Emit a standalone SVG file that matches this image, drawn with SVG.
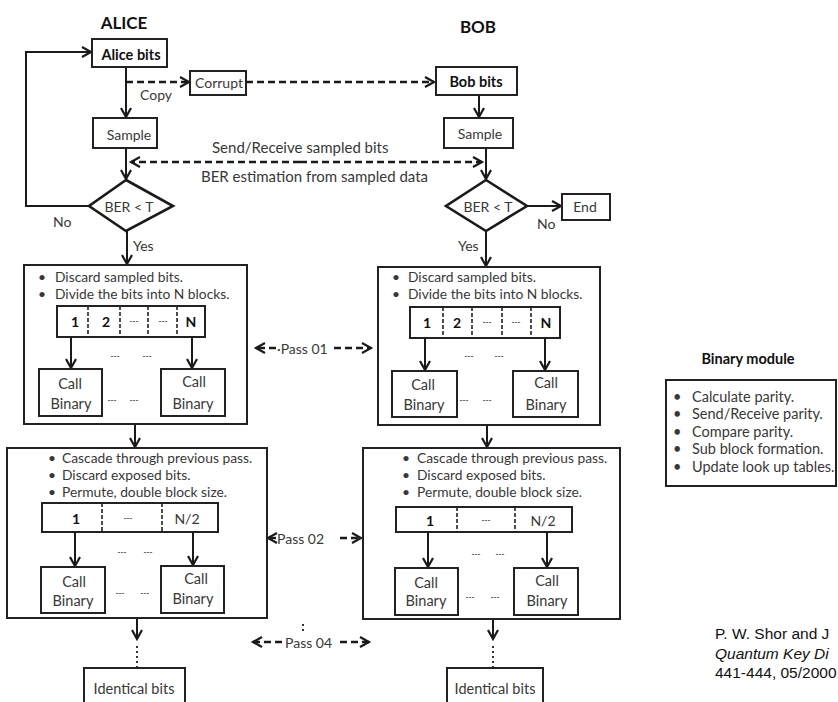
<svg xmlns="http://www.w3.org/2000/svg" width="838" height="702" viewBox="0 0 838 702">
<defs>
<marker id="ah" markerUnits="userSpaceOnUse" markerWidth="12" markerHeight="12" refX="9" refY="5" orient="auto" overflow="visible">
<path d="M0,0 L9,5 L0,10" fill="none" stroke="#1a1a1a" stroke-width="2.2"/>
</marker>
</defs>
<style>
.bx{fill:#fff;stroke:#222;stroke-width:2}
.dm{fill:#fff;stroke:#1a1a1a;stroke-width:2.6}
.ln{fill:none;stroke:#1a1a1a;stroke-width:2}
.ds{fill:none;stroke:#1a1a1a;stroke-width:2.4;stroke-dasharray:7 4}
.dv{fill:none;stroke:#222;stroke-width:1.6;stroke-dasharray:4 2}
.dt{fill:none;stroke:#333;stroke-width:2;stroke-dasharray:2 3}
text{font-family:Lato,"Open Sans",sans-serif;fill:#383838;dominant-baseline:central}
.t{font-size:14px}
.s{font-size:13.8px}
.m{font-size:14.5px}
.l{font-size:15px}
.cb{font-size:14.5px}
.b{font-weight:bold;fill:#111}
.h{font-size:17px;font-weight:bold;fill:#111}
.c{text-anchor:middle}
.e{font-size:8px;font-weight:bold;fill:#444}
.cit{font-family:"Liberation Sans",Arial,sans-serif;font-size:15.5px;fill:#111}
</style>
<rect width="838" height="702" fill="#fff"/>

<text class="h c" x="124" y="22">ALICE</text>
<text class="h c" x="478" y="26">BOB</text>

<g id="connectors">
<polyline class="ln" points="89,206 26,206 26,52 91,52" marker-end="url(#ah)"/>
<line class="ln" x1="126" y1="67" x2="126" y2="117" marker-end="url(#ah)"/>
<line class="ds" x1="126" y1="82" x2="189" y2="82" marker-end="url(#ah)"/>
<line class="ds" x1="246" y1="82" x2="434" y2="82" marker-end="url(#ah)"/>
<line class="ln" x1="126" y1="148" x2="126" y2="179" marker-end="url(#ah)"/>
<line class="ln" x1="479" y1="95" x2="479" y2="117" marker-end="url(#ah)"/>
<line class="ln" x1="486" y1="148" x2="486" y2="179" marker-end="url(#ah)"/>
<line class="ds" x1="300" y1="162" x2="131" y2="162" marker-end="url(#ah)"/>
<line class="ds" x1="300" y1="162" x2="482" y2="162" marker-end="url(#ah)"/>
<line class="ln" x1="527" y1="206" x2="561" y2="206" marker-end="url(#ah)"/>
<line class="ln" x1="127" y1="231" x2="127" y2="264" marker-end="url(#ah)"/>
<line class="ln" x1="486" y1="231" x2="486" y2="266" marker-end="url(#ah)"/>
<line class="ln" x1="135" y1="424" x2="135" y2="447" marker-end="url(#ah)"/>
<line class="ln" x1="487" y1="425" x2="487" y2="447" marker-end="url(#ah)"/>
<line class="ln" x1="137" y1="618" x2="137" y2="639" marker-end="url(#ah)"/>
<line class="dt" x1="137" y1="646" x2="137" y2="668"/>
<line class="ln" x1="493" y1="619" x2="493" y2="639" marker-end="url(#ah)"/>
<line class="dt" x1="493" y1="646" x2="493" y2="668"/>
<line class="ds" x1="276" y1="348" x2="256" y2="348" marker-end="url(#ah)"/>
<line class="ds" x1="334" y1="348" x2="371" y2="348" marker-end="url(#ah)"/>
<line class="ds" x1="276" y1="538" x2="268" y2="538" marker-end="url(#ah)"/>
<line class="ds" x1="340" y1="538" x2="361" y2="538" marker-end="url(#ah)"/>
<line class="ds" x1="282" y1="642" x2="253" y2="642" marker-end="url(#ah)"/>
<line class="ds" x1="340" y1="642" x2="369" y2="642" marker-end="url(#ah)"/>
<line class="dt" x1="303" y1="624" x2="303" y2="634" stroke-width="1.6"/>
</g>

<text class="l" x="212" y="147">Send/Receive  sampled bits</text>
<text class="l" x="201" y="176">BER estimation from sampled data</text>
<text class="t" x="140" y="94">Copy</text>
<text class="t" x="53" y="221">No</text>
<text class="t" x="133" y="245">Yes</text>
<text class="t" x="537" y="223">No</text>
<text class="t" x="458" y="245">Yes</text>
<text class="t" x="277" y="348">·Pass  01</text>
<text class="t" x="277" y="538">Pass  02</text>
<text class="t" x="285" y="642">Pass  04</text>

<g id="alice-bits"><rect class="bx" x="92" y="39" width="75" height="28"/><text class="cb b c" x="131" y="54">Alice bits</text></g>
<g id="corrupt"><rect class="bx" x="190" y="71" width="56" height="24"/><text class="t c" x="219" y="82">Corrupt</text></g>
<g id="bob-bits"><rect class="bx" x="436" y="67" width="81" height="28"/><text class="cb b c" x="476" y="81">Bob bits</text></g>
<g id="alice-sample"><rect class="bx" x="93" y="118" width="64" height="30"/><text class="t c" x="129" y="134">Sample</text></g>
<g id="bob-sample"><rect class="bx" x="444" y="118" width="69" height="30"/><text class="t c" x="480" y="133">Sample</text></g>
<g id="alice-ber"><polygon class="dm" points="126,180 173,206 126,231 89,206"/><text class="t c" x="129" y="206">BER &lt; T</text></g>
<g id="bob-ber"><polygon class="dm" points="486,180 527,206 486,231 446,206"/><text class="t c" x="488" y="206">BER &lt; T</text></g>
<g id="end"><rect class="bx" x="562" y="194" width="48" height="26"/><text class="t c" x="585" y="206">End</text></g>

<g id="alice-pass1">
<rect class="bx" x="24" y="265" width="223" height="159"/>
<text class="s" x="38" y="276">•</text><text class="s" x="55" y="276">Discard sampled bits.</text>
<text class="s" x="38" y="293">•</text><text class="s" x="55" y="293">Divide the bits into N blocks.</text>
<rect class="bx" x="57" y="306" width="148" height="31"/>
<line class="dv" x1="88" y1="306" x2="88" y2="337"/><line class="dv" x1="120" y1="306" x2="120" y2="337"/><line class="dv" x1="148" y1="306" x2="148" y2="337"/><line class="dv" x1="177" y1="306" x2="177" y2="337"/>
<text class="t b c" x="75" y="321">1</text><text class="t b c" x="106" y="321">2</text><text class="e c" x="134" y="321">---</text><text class="e c" x="163" y="321">---</text><text class="t b c" x="191" y="321">N</text>
<line class="ln" x1="71" y1="337" x2="71" y2="368" marker-end="url(#ah)"/>
<line class="ln" x1="192" y1="337" x2="192" y2="368" marker-end="url(#ah)"/>
<text class="e c" x="115" y="356">---</text><text class="e c" x="147" y="356">---</text>
<rect class="bx" x="39" y="369" width="63" height="47"/><text class="cb c" x="70" y="383">Call</text><text class="cb c" x="71" y="403">Binary</text>
<rect class="bx" x="161" y="369" width="64" height="47"/><text class="cb c" x="194" y="381">Call</text><text class="cb c" x="193" y="403">Binary</text>
<text class="e c" x="112" y="400">---</text><text class="e c" x="134" y="400">---</text>
</g>

<g id="bob-pass1">
<rect class="bx" x="378" y="267" width="222" height="158"/>
<text class="s" x="392" y="276">•</text><text class="s" x="408" y="276">Discard sampled bits.</text>
<text class="s" x="392" y="293">•</text><text class="s" x="408" y="293">Divide the bits into N blocks.</text>
<rect class="bx" x="410" y="307" width="150" height="31"/>
<line class="dv" x1="443" y1="307" x2="443" y2="338"/><line class="dv" x1="472" y1="307" x2="472" y2="338"/><line class="dv" x1="502" y1="307" x2="502" y2="338"/><line class="dv" x1="531" y1="307" x2="531" y2="338"/>
<text class="t b c" x="427" y="322">1</text><text class="t b c" x="457" y="322">2</text><text class="e c" x="487" y="322">---</text><text class="e c" x="516" y="322">---</text><text class="t b c" x="546" y="322">N</text>
<line class="ln" x1="425" y1="338" x2="425" y2="370" marker-end="url(#ah)"/>
<line class="ln" x1="545" y1="338" x2="545" y2="370" marker-end="url(#ah)"/>
<text class="e c" x="469" y="356">---</text><text class="e c" x="499" y="356">---</text>
<rect class="bx" x="392" y="371" width="65" height="46"/><text class="cb c" x="423" y="384">Call</text><text class="cb c" x="424" y="404">Binary</text>
<rect class="bx" x="513" y="371" width="65" height="46"/><text class="cb c" x="546" y="382">Call</text><text class="cb c" x="546" y="404">Binary</text>
<text class="e c" x="464" y="400">---</text><text class="e c" x="487" y="400">---</text>
</g>

<g id="alice-pass2">
<rect class="bx" x="7" y="448" width="260" height="170"/>
<text class="s" x="48" y="457">•</text><text class="s" x="62" y="457">Cascade through previous pass.</text>
<text class="s" x="48" y="474">•</text><text class="s" x="62" y="474">Discard exposed bits.</text>
<text class="s" x="48" y="491">•</text><text class="s" x="62" y="491">Permute, double block size.</text>
<rect class="bx" x="42" y="503" width="176" height="29"/>
<line class="dv" x1="102" y1="503" x2="102" y2="532"/><line class="dv" x1="162" y1="503" x2="162" y2="532"/>
<text class="t b c" x="76" y="518">1</text><text class="e c" x="128" y="518">---</text><text class="t c" x="187" y="518">N/2</text>
<line class="ln" x1="75" y1="532" x2="75" y2="566" marker-end="url(#ah)"/>
<line class="ln" x1="193" y1="532" x2="193" y2="565" marker-end="url(#ah)"/>
<text class="e c" x="122" y="552">---</text><text class="e c" x="148" y="552">---</text>
<rect class="bx" x="41" y="567" width="64" height="46"/><text class="cb c" x="74" y="581">Call</text><text class="cb c" x="73" y="600">Binary</text>
<rect class="bx" x="161" y="566" width="63" height="47"/><text class="cb c" x="196" y="578">Call</text><text class="cb c" x="193" y="598">Binary</text>
<text class="e c" x="120" y="593">---</text><text class="e c" x="145" y="593">---</text>
</g>

<g id="bob-pass2">
<rect class="bx" x="363" y="448" width="257" height="171"/>
<text class="s" x="402" y="457">•</text><text class="s" x="417" y="457">Cascade through previous pass.</text>
<text class="s" x="402" y="474">•</text><text class="s" x="417" y="474">Discard exposed bits.</text>
<text class="s" x="402" y="491">•</text><text class="s" x="417" y="491">Permute, double block size.</text>
<rect class="bx" x="396" y="507" width="176" height="25"/>
<line class="dv" x1="457" y1="507" x2="457" y2="532"/><line class="dv" x1="515" y1="507" x2="515" y2="532"/>
<text class="t b c" x="430" y="520">1</text><text class="e c" x="486" y="520">---</text><text class="t c" x="543" y="520">N/2</text>
<line class="ln" x1="428" y1="532" x2="428" y2="567" marker-end="url(#ah)"/>
<line class="ln" x1="547" y1="532" x2="547" y2="567" marker-end="url(#ah)"/>
<text class="e c" x="476" y="554">---</text><text class="e c" x="500" y="554">---</text>
<rect class="bx" x="395" y="568" width="63" height="47"/><text class="cb c" x="426" y="582">Call</text><text class="cb c" x="426" y="600">Binary</text>
<rect class="bx" x="514" y="568" width="64" height="47"/><text class="cb c" x="547" y="580">Call</text><text class="cb c" x="547" y="600">Binary</text>
<text class="e c" x="470" y="597">---</text><text class="e c" x="495" y="597">---</text>
</g>

<g id="alice-identical"><rect class="bx" x="84" y="668" width="101" height="44"/><text class="cb c" x="134" y="688">Identical bits</text></g>
<g id="bob-identical"><rect class="bx" x="447" y="668" width="96" height="44"/><text class="cb c" x="495" y="688">Identical bits</text></g>

<g id="binary-module">
<text class="cb b c" x="748" y="358">Binary module</text>
<rect class="bx" x="666" y="380" width="170" height="106"/>
<text class="m" x="673" y="396">•</text><text class="m" x="692" y="396">Calculate parity.</text>
<text class="m" x="673" y="413">•</text><text class="m" x="692" y="413">Send/Receive parity.</text>
<text class="m" x="673" y="431">•</text><text class="m" x="692" y="431">Compare parity.</text>
<text class="m" x="673" y="448">•</text><text class="m" x="692" y="448">Sub block formation.</text>
<text class="m" x="673" y="466">•</text><text class="m" x="692" y="466">Update look up tables.</text>
</g>

<g id="citation">
<text class="cit" x="715" y="633">P. W. Shor and J</text>
<text class="cit" x="715" y="653" font-style="italic">Quantum Key Di</text>
<text class="cit" x="715" y="672">441-444, 05/2000</text>
</g>
</svg>
